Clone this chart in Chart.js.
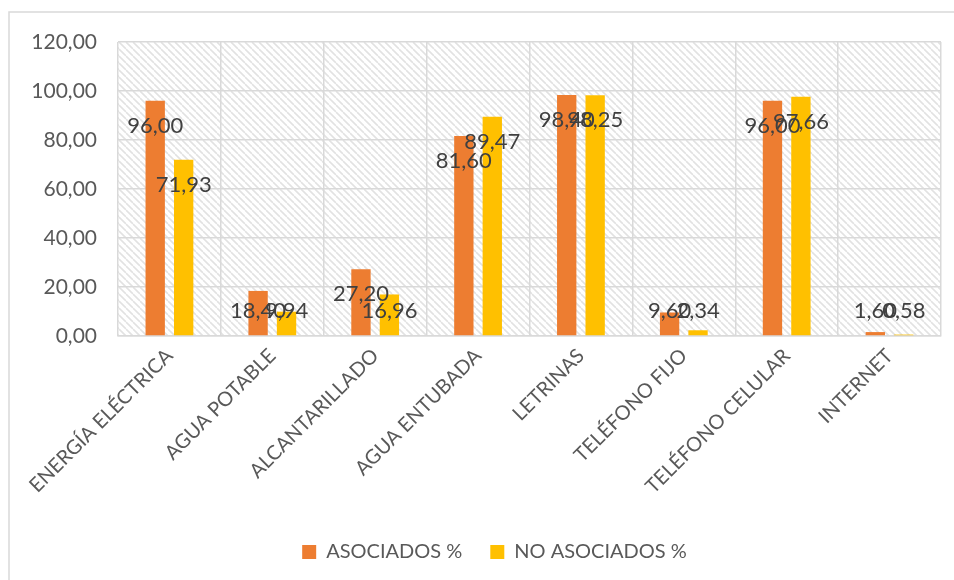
<!DOCTYPE html>
<html>
<head>
<meta charset="utf-8">
<script src="https://cdn.jsdelivr.net/npm/chart.js@4/dist/chart.umd.min.js"></script>
<style>
  html, body { margin: 0; padding: 0; background: #ffffff; }
  #wrap { width: 954px; height: 580px; position: relative; }
</style>
</head>
<body>
<div id="wrap"><canvas id="c" width="954" height="580"></canvas></div>
<script>
const categories = ["ENERGÍA ELÉCTRICA", "AGUA POTABLE", "ALCANTARILLADO", "AGUA ENTUBADA", "LETRINAS", "TELÉFONO FIJO", "TELÉFONO CELULAR", "INTERNET"];
const asociados = [96.00, 18.40, 27.20, 81.60, 98.40, 9.60, 96.00, 1.60];
const noAsociados = [71.93, 9.94, 16.96, 89.47, 98.25, 2.34, 97.66, 0.58];
const seriesNames = ["ASOCIADOS %", "NO ASOCIADOS %"];
const yTicks = [0, 20, 40, 60, 80, 100, 120];

const FONT = "Lato, 'Open Sans', sans-serif";
const fmt = v => v.toFixed(2).replace('.', ',');

function makePattern(ctx) {
  const s = 7;
  const c = document.createElement('canvas');
  c.width = s; c.height = s;
  const g = c.getContext('2d');
  g.fillStyle = '#ffffff';
  g.fillRect(0, 0, s, s);
  g.strokeStyle = '#e2e2e2';
  g.lineWidth = 1.6;
  for (const k of [-s, 0, s]) {
    g.beginPath();
    g.moveTo(0, k);
    g.lineTo(s, s + k);
    g.stroke();
  }
  return ctx.createPattern(c, 'repeat');
}

const bgPlugin = {
  id: 'bg',
  afterLayout(chart) {
    if (chart.legend) {
      chart.legend.left += 24;
      chart.legend.right += 24;
    }
  },
  beforeDraw(chart) {
    const ctx = chart.ctx;
    const a = chart.chartArea;
    ctx.save();
    ctx.fillStyle = '#ffffff';
    ctx.fillRect(0, 0, chart.width, chart.height);
    ctx.fillStyle = makePattern(ctx);
    ctx.fillRect(a.left, a.top, a.right - a.left, a.bottom - a.top);
    ctx.strokeStyle = '#d9d9d9';
    ctx.lineWidth = 1.5;
    ctx.beginPath();
    ctx.moveTo(9, 580);
    ctx.lineTo(9, 12);
    ctx.lineTo(954, 12);
    ctx.stroke();
    ctx.restore();
  }
};

const labelPlugin = {
  id: 'valLabels',
  afterDatasetsDraw(chart) {
    const ctx = chart.ctx;
    const yScale = chart.scales.y;
    ctx.save();
    ctx.font = "22px " + FONT;
    ctx.fillStyle = '#404040';
    ctx.textAlign = 'center';
    ctx.textBaseline = 'middle';
    chart.data.datasets.forEach((ds, i) => {
      const meta = chart.getDatasetMeta(i);
      meta.data.forEach((bar, j) => {
        const y = Math.min(bar.y + 25, yScale.bottom - 25);
        ctx.fillText(fmt(ds.data[j]), bar.x, y);
      });
    });
    ctx.restore();
  }
};

new Chart(document.getElementById('c'), {
  type: 'bar',
  data: {
    labels: categories,
    datasets: [
      { label: seriesNames[0], data: asociados, backgroundColor: '#ED7D31', barPercentage: 0.68, categoryPercentage: 0.553 },
      { label: seriesNames[1], data: noAsociados, backgroundColor: '#FFC000', barPercentage: 0.68, categoryPercentage: 0.553 }
    ]
  },
  options: {
    responsive: false,
    animation: false,
    devicePixelRatio: 1,
    layout: { padding: { top: 42, right: 13, left: 0, bottom: 8 } },
    plugins: {
      legend: {
        position: 'bottom',
        labels: {
          font: { family: FONT, size: 20 },
          color: '#595959',
          boxWidth: 14,
          boxHeight: 14,
          padding: 28
        }
      },
      tooltip: { enabled: false }
    },
    scales: {
      x: {
        offset: true,
        grid: { offset: true, color: '#d9d9d9', lineWidth: 1.5, drawTicks: false },
        border: { color: '#d9d9d9', width: 1.5 },
        ticks: {
          font: { family: FONT, size: 20 },
          color: '#595959',
          minRotation: 45,
          maxRotation: 45,
          padding: 8,
          autoSkip: false
        },
        afterFit(scale) { scale.height = 178; }
      },
      y: {
        min: 0,
        max: 120,
        afterBuildTicks(scale) { scale.ticks = yTicks.map(v => ({ value: v })); },
        grid: { color: '#d9d9d9', lineWidth: 1.5, drawTicks: false },
        border: { display: false },
        ticks: {
          font: { family: FONT, size: 21 },
          color: '#595959',
          padding: 21,
          callback: v => fmt(v)
        },
        afterFit(scale) { scale.width = 118; }
      }
    }
  },
  plugins: [bgPlugin, labelPlugin]
});
</script>
</body>
</html>
